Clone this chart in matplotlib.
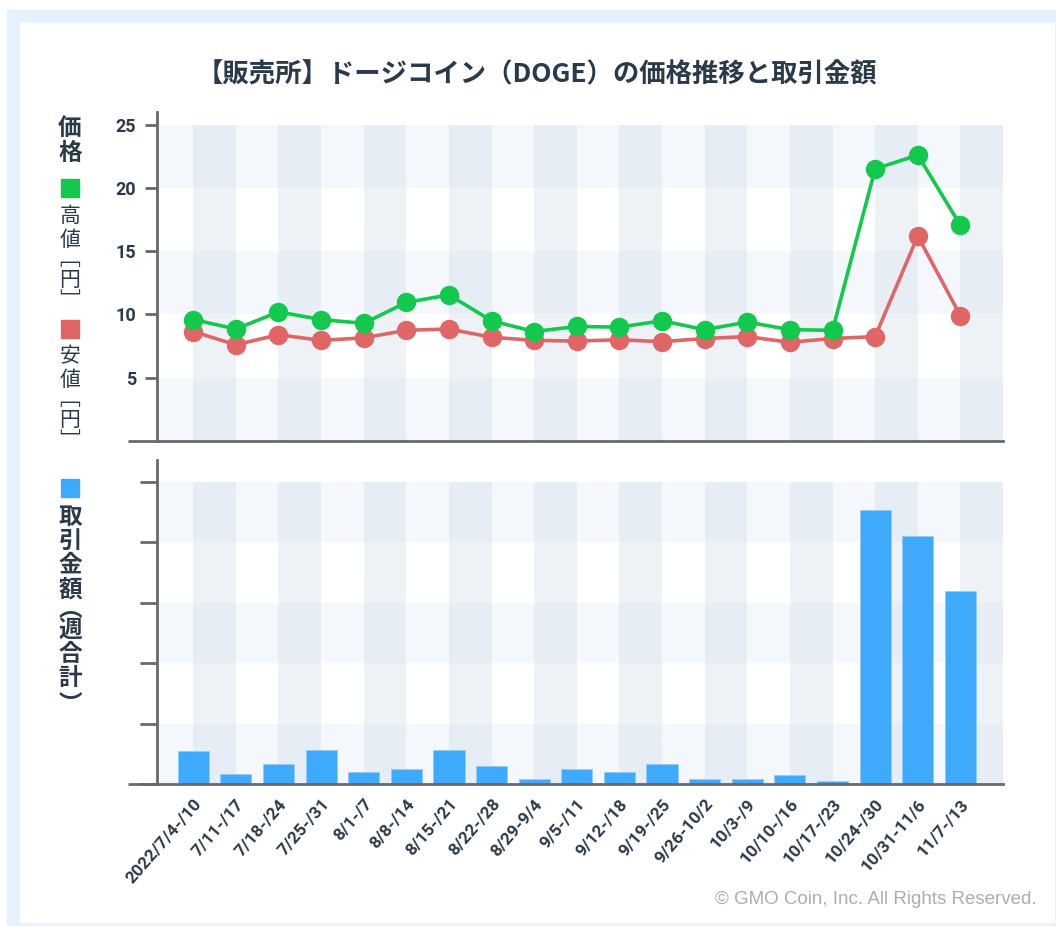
import matplotlib
matplotlib.use("Agg")
import matplotlib.pyplot as plt
from matplotlib.patches import Rectangle
from matplotlib.lines import Line2D

plt.rcParams['font.family'] = ['Noto Sans CJK JP', 'DejaVu Sans']

# data
weeks = ["2022/7/4-/10", "7/11-/17", "7/18-/24", "7/25-/31", "8/1-/7", "8/8-/14",
         "8/15-/21", "8/22-/28", "8/29-9/4", "9/5-/11", "9/12-/18", "9/19-/25",
         "9/26-10/2", "10/3-/9", "10/10-/16", "10/17-/23", "10/24-/30", "10/31-11/6",
         "11/7-/13"]
high = [9.6, 8.85, 10.2, 9.6, 9.3, 10.95, 11.55, 9.5, 8.65, 9.05, 9.0, 9.5,
        8.8, 9.4, 8.8, 8.75, 21.5, 22.6, 17.05]
low = [8.65, 7.6, 8.4, 7.95, 8.15, 8.75, 8.85, 8.2, 7.95, 7.9, 8.0, 7.85,
       8.1, 8.25, 7.8, 8.1, 8.25, 16.2, 9.9]
volume = [0.54, 0.16, 0.33, 0.57, 0.2, 0.24, 0.57, 0.29, 0.09, 0.24, 0.2, 0.33,
          0.09, 0.09, 0.155, 0.045, 4.54, 4.11, 3.2]
price_ticks = [5, 10, 15, 20, 25]
volume_ticks = [0, 1, 2, 3, 4, 5]

W, H = 1056, 926
GREEN = "#12c94d"
RED = "#e06666"
BLUE = "#3fa9fb"
TEXT = "#2b3a4b"
SPINE = "#67696b"
ROW = "#f4f8fd"
COL = "#c8d6e5"


def fx(px):
    return px / W


def fy(py):
    return 1 - py / H


fig = plt.figure(figsize=(W / 100, H / 100), dpi=100, facecolor="white")
fig.patches.append(Rectangle((fx(7), fy(926)), fx(1056) - fx(7), fy(10) - fy(926),
                             transform=fig.transFigure, color="#e4f2fd", zorder=-10))
fig.patches.append(Rectangle((fx(20), fy(922)), fx(1054) - fx(20), fy(23) - fy(922),
                             transform=fig.transFigure, color="white", zorder=-9))

ax1 = fig.add_axes([fx(157), fy(441), fx(1003) - fx(157), fy(112) - fy(441)])
ax2 = fig.add_axes([fx(157), fy(784), fx(1003) - fx(157), fy(460) - fy(784)])

x = list(range(len(weeks)))


def style(ax, top, step, ylim, ticklen):
    ax.set_facecolor("none")
    ax.set_xlim(-0.85, len(weeks))
    ax.set_ylim(0, ylim)
    for k in range(0, 5, 2):
        ax.axhspan(k * step, (k + 1) * step, color=ROW, lw=0, zorder=0)
    for i in range(0, len(weeks), 2):
        ax.add_patch(Rectangle((i, 0), 1, top, color=COL, alpha=0.3, lw=0, zorder=0.5))
    for s in ["top", "right"]:
        ax.spines[s].set_visible(False)
    for s in ["left", "bottom"]:
        ax.spines[s].set_color(SPINE)
        ax.spines[s].set_linewidth(2)
    ax.add_line(Line2D([-0.034, 0], [0, 0], transform=ax.transAxes, clip_on=False,
                       color=SPINE, lw=2, solid_capstyle="butt"))
    ax.tick_params(axis="y", length=ticklen, width=2, color=SPINE, labelcolor=TEXT, pad=6)


style(ax1, 25, 5, 26.0, 9)
ax1.set_xticks([])
ax1.set_yticks(price_ticks)
for t in ax1.get_yticklabels():
    t.set_fontfamily("Roboto")
    t.set_fontweight("bold")
    t.set_fontsize(13)

ax1.plot(x, high, color=GREEN, lw=2.6, marker="o", ms=13, zorder=4)
ax1.plot(x, low, color=RED, lw=2.6, marker="o", ms=13, zorder=3)

style(ax2, 5, 1, 5.36, 12)
ax2.set_yticks(volume_ticks)
ax2.set_yticklabels([])
ax2.bar(x, volume, width=0.73, color=BLUE, edgecolor="#8fcdfd", lw=0.6, zorder=2)
ax2.set_xticks(x)
ax2.set_xticklabels(weeks, rotation=49, ha="right", rotation_mode="anchor",
                    fontfamily="Roboto", fontweight="bold", fontsize=12.5, color=TEXT)
ax2.tick_params(axis="x", length=0, pad=9)

fig.text(0.508, fy(75), "【販売所】ドージコイン（DOGE）の価格推移と取引金額",
         ha="center", va="center", fontsize=19, fontweight="bold", color=TEXT)


def vtext(px, chars, ys, **kw):
    for c, py in zip(chars, ys):
        fig.text(fx(px), fy(py), c, ha="center", va="center", color=TEXT, **kw)


def square(px, py, color, size=18):
    fig.patches.append(Rectangle((fx(px - size / 2), fy(py + size / 2)), size / W, size / H,
                                 transform=fig.transFigure, color=color, zorder=5))


vtext(70, "価格", [128, 153], fontsize=17, fontweight="bold")
square(70, 188, GREEN)
vtext(70, "高値﹇円﹈", [216, 240, 259, 280, 302], fontsize=15)
square(70, 329, RED)
vtext(70, "安値﹇円﹈", [356, 380, 399, 420, 442], fontsize=15)
square(70, 488, BLUE)
vtext(70, "取引金額︵週合計︶", [517, 541, 565, 590, 609, 630, 654, 678, 705],
      fontsize=17, fontweight="bold")

fig.text(fx(1037), fy(900), "© GMO Coin, Inc. All Rights Reserved.", ha="right",
         va="center", fontsize=13.5, color="#adadad", fontfamily="Liberation Sans")

fig.savefig("out.png", dpi=100, facecolor="white")
